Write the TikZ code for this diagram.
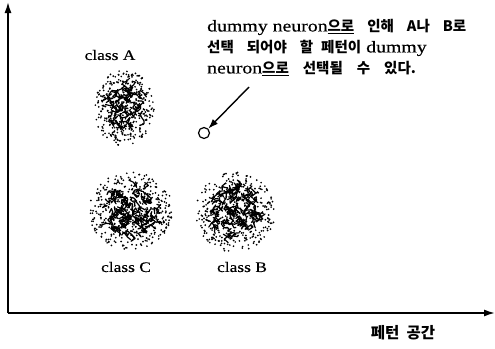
\documentclass[tikz,border=0pt]{standalone}
\usepackage{fontspec}
\setmainfont{Liberation Serif}[FakeStretch=1.2,FakeBold=0.4]
\newfontfamily\kr{Noto Sans CJK KR}
\newcommand\K[1]{{\kr\bfseries\fontsize{14.5}{21}\selectfont #1}}
\usetikzlibrary{arrows.meta}
\tikzset{
  axis/.style={line width=1.6pt,-{Latex[length=11pt,width=7pt]}},
  pointer/.style={line width=1.4pt,-{Latex[length=10pt,width=7pt]}},
  lbl/.style={inner sep=0pt,font=\fontsize{14.5}{16}\selectfont},
  note/.style={inner sep=0pt,align=left,anchor=north west,font=\fontsize{16.5}{21}\selectfont},
  dummy/.style={circle,draw,line width=1.2pt,minimum size=11pt,inner sep=0pt}
}
% cluster: cx, cy, rx, ry, seed, number of strokes
\newcommand\cloud[6]{%
  \pgfmathsetseed{#5}%
  \foreach \i in {1,...,380}{%
    \pgfmathsetmacro\ang{rnd*360}%
    \pgfmathsetmacro\rr{sqrt(rnd)}%
    \fill ({#1+#3*\rr*cos(\ang)},{#2+#4*\rr*sin(\ang)}) circle (0.95);
  }%
  \foreach \i in {1,...,#6}{%
    \pgfmathsetmacro\ang{rnd*360}%
    \pgfmathsetmacro\rr{0.66*sqrt(rnd)}%
    \pgfmathsetmacro\xa{#1+#3*\rr*cos(\ang)}%
    \pgfmathsetmacro\ya{#2+#4*\rr*sin(\ang)}%
    \pgfmathsetmacro\xb{\xa+rand*4.5}%
    \pgfmathsetmacro\yb{\ya+rand*4.5}%
    \pgfmathsetmacro\xc{\xb+rand*4.5}%
    \pgfmathsetmacro\yc{\yb+rand*4.5}%
    \pgfmathsetmacro\xd{\xc+rand*4.5}%
    \pgfmathsetmacro\yd{\yc+rand*4.5}%
    \draw[line width=1.2pt,line cap=round,line join=round] (\xa,\ya) -- (\xb,\yb) -- (\xc,\yc) -- (\xd,\yd);
  }%
}
\begin{document}
\begin{tikzpicture}[x=1pt,y=-1pt]
\useasboundingbox (0,0) rectangle (495,348);
% axes
\coordinate (O) at (8,313);
\coordinate (Y) at (8,2);
\coordinate (X) at (495,313);
\draw[axis] (O) -- (Y);
\draw[axis] (O) -- (X);
\node[lbl] (xlabel) at (403,333) {\K{\fontsize{15.5}{18}\selectfont 페턴\ \ 공간}};
% clusters
\cloud{124}{108}{30}{38}{11}{70}
\cloud{131}{211}{42}{39}{23}{120}
\cloud{235}{212}{40}{40}{37}{120}
\node[lbl] (la) at (110,55) {class A};
\node[lbl] (lc) at (126,267) {class C};
\node[lbl] (lb) at (242,267) {class B};
% dummy neuron
\node[dummy] (dn) at (204,133) {};
\coordinate (as) at (249,87);
\draw[pointer] (as) -- (dn);
\node[note] (txt) at (207,19) {dummy neuron\underline{\K{으로}}\hspace{13pt}\K{인해}\hspace{13pt}\K{A나}\hspace{13pt}\K{B로}\\
\K{선택}\hspace{13pt}\K{되어야}\hspace{13pt}\K{할}\hspace{8pt}\K{페턴이}\ dummy\\
neuron\underline{\K{으로}}\hspace{14pt}\K{선택될}\hspace{14pt}\K{수}\hspace{14pt}\K{있다.}};
\end{tikzpicture}
\end{document}
